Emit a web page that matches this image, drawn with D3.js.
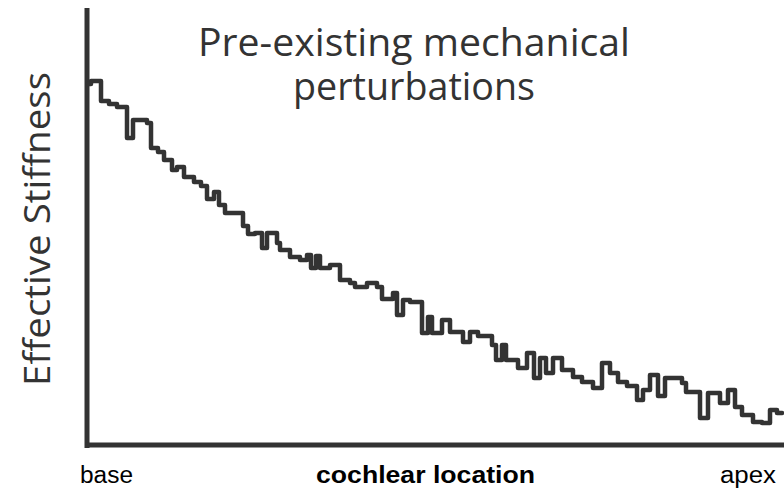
<!DOCTYPE html>
<html>
<head>
<meta charset="utf-8">
<script src="https://cdn.jsdelivr.net/npm/d3@7"></script>
<style>
  body { margin: 0; background: #fff; }
</style>
</head>
<body>
<script>
// cochlear location (a.u., base = 0) where each step starts
var location_ = [0, 1.5, 6.5, 10.5, 14.5, 19.5, 22.5, 29.5, 31.5, 35, 38, 42, 44.5, 48, 53,
  56.5, 59.5, 63, 65.5, 68.5, 77.5, 80, 83.5, 87, 89.5, 94.5, 96, 101, 106, 109.5,
  111.5, 114, 116, 121, 126, 131, 133.5, 139.5, 144.5, 147, 152.5, 154.5, 157.5, 161, 167,
  170, 172, 177, 181, 187.5, 191, 195, 202, 204, 207, 209, 215, 219.5, 223, 226,
  229, 232.5, 237, 242.5, 247, 252.5, 257, 261, 265, 269.5, 274.5, 277.5, 281, 285, 288.5,
  297, 299, 306, 310, 316, 320, 323.5, 327, 332.5, 337, 341, 344.5, 347]

// effective stiffness (a.u.) on each step
var stiffness = [72.2, 72.8, 68.8, 68.2, 67.6, 61.4, 65, 64.4, 59.4, 58.6, 57, 55, 55.6, 53.6, 52.6,
  51.8, 49.2, 50.6, 48, 46.4, 43.8, 42.2, 42.4, 39.4, 42.4, 40.4, 39, 37.6, 37, 38,
  35.4, 37.8, 35.4, 36, 33, 32.4, 31.6, 32.4, 31.6, 29.2, 30.4, 26, 29, 28.6, 22.4,
  25.6, 22.4, 25, 22.6, 20.6, 22.6, 21.8, 20, 17, 20, 17, 15.4, 18.4, 13.4, 17.4,
  14.4, 17.4, 15, 13.6, 12.6, 11.4, 16.4, 14.4, 12.6, 11.8, 9, 11, 14, 9.8, 13.4,
  12.4, 10.6, 5.4, 10.4, 8.4, 11, 7.6, 6, 4.6, 4.4, 7, 6.4, 6.4]

var titleLines = ["Pre-existing mechanical", "perturbations"]
var yLabel = "Effective Stiffness"
var xLabels = ["base", "cochlear location", "apex"]

var w = 784;
var h = 497;
var ink = "#333";

var data = location_.map(function(d, i) { return { loc: d, s: stiffness[i] } })

var xScale = d3.scaleLinear()
                .domain([0, 347])
                .range([88, 782])

var yScale = d3.scaleLinear()
                .domain([0, 87])
                .range([445, 10])

var svg = d3.select("body").append("svg")
              .attr("width", w)
              .attr("height", h)

// axes: bare thick lines, no ticks
var yAxis = svg.append("g")
      .attr("transform", "translate(86.5, 0)")
      .call(d3.axisLeft(yScale).tickValues([]).tickSizeOuter(0))

var xAxis = svg.append("g")
      .attr("transform", "translate(0, 444.5)")
      .call(d3.axisBottom(xScale).tickValues([]).tickSizeOuter(0))

svg.selectAll(".domain")
      .attr("stroke", ink)
      .attr("stroke-width", 5)
      .attr("stroke-linecap", "square")

// stiffness staircase
var line = d3.line()
      .x(function(d) { return xScale(d.loc) })
      .y(function(d) { return yScale(d.s) })
      .curve(d3.curveStepAfter)

svg.append("path")
      .datum(data)
      .attr("d", line)
      .attr("fill", "none")
      .attr("stroke", ink)
      .attr("stroke-width", 4.5)
      .attr("stroke-linejoin", "round")
      .attr("stroke-linecap", "round")

// title: one text, two lines
var title = svg.append("text")
      .attr("text-anchor", "middle")
      .attr("font-family", "'Open Sans', sans-serif")
      .attr("font-size", 38)
      .attr("fill", ink)

title.selectAll("tspan")
      .data(titleLines)
      .enter()
      .append("tspan")
      .text(function(d) { return d })
      .attr("x", 414)
      .attr("y", function(d, i) { return 56 + i * 44 })
      .attr("textLength", function(d, i) { return i == 0 ? 432 : 242 })
      .attr("lengthAdjust", "spacingAndGlyphs")

// y label
svg.append("text")
      .text(yLabel)
      .attr("transform", "translate(50, 229) rotate(-90)")
      .attr("text-anchor", "middle")
      .attr("font-family", "'Open Sans', sans-serif")
      .attr("font-size", 36)
      .attr("fill", ink)
      .attr("textLength", 314)
      .attr("lengthAdjust", "spacingAndGlyphs")

// x labels
var xLabelPos = [[80, 53, "normal"], [316, 219, "bold"], [720, 56, "normal"]]
svg.selectAll("text.xlab")
      .data(xLabels)
      .enter()
      .append("text")
      .attr("class", "xlab")
      .text(function(d) { return d })
      .attr("x", function(d, i) { return xLabelPos[i][0] })
      .attr("y", 483)
      .attr("font-family", "'Liberation Sans', Arial, sans-serif")
      .attr("font-weight", function(d, i) { return xLabelPos[i][2] })
      .attr("font-size", 23)
      .attr("fill", "#000")
      .attr("textLength", function(d, i) { return xLabelPos[i][1] })
      .attr("lengthAdjust", "spacingAndGlyphs")
</script>
</body>
</html>
